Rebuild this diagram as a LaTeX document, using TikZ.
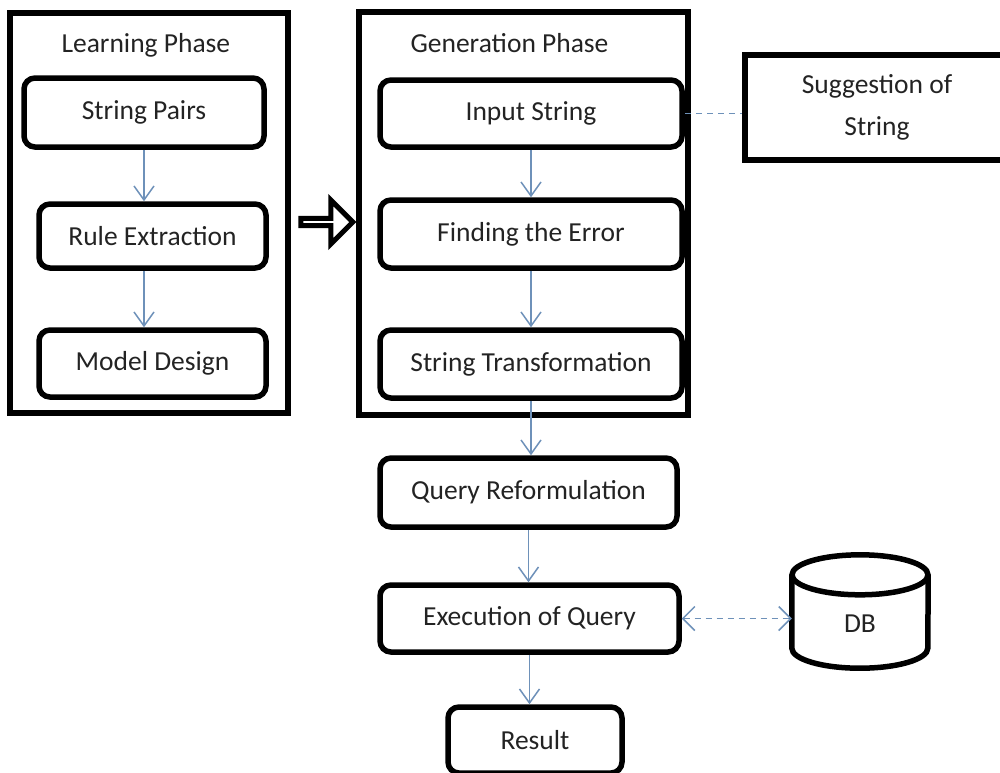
\documentclass[tikz,border=0pt]{standalone}
\usepackage{fontspec}
\setmainfont{Carlito}
\usetikzlibrary{arrows.meta}
\usetikzlibrary{shapes.arrows}
\definecolor{flowblue}{RGB}{110,145,185}
\definecolor{inkgray}{RGB}{35,35,35}

\begin{document}
\begin{tikzpicture}[x=1pt, y=-1pt, font=\fontsize{27.5}{33}\selectfont, text=inkgray]

		\tikzstyle{phase} = [draw=black, line width=5.5pt]
		\tikzstyle{stepbox} = [draw=black, line width=5.5pt, rounded corners=11pt, inner sep=0pt]
		\tikzstyle{dbline} = [draw=black, line width=5.5pt]
		\tikzstyle{edge} = [->, flowblue, line width=1.5pt, -{Straight Barb[length=14pt, width=20pt]}]
		\tikzstyle{edge_dashed} = [flowblue, line width=1.5pt, dash pattern=on 6pt off 5pt]
		\tikzstyle{edge_both} = [flowblue, line width=1.5pt, dash pattern=on 6pt off 5pt, {Straight Barb[length=12pt, width=24pt]}-{Straight Barb[length=12pt, width=24pt]}]

		\useasboundingbox (0,0) rectangle (1000,772);
		\clip (0,0) rectangle (1000,772);

		% learning phase
		\node[phase, minimum width=278pt, minimum height=400pt](learn) at (149,213){};
		\node[anchor=west](learn_title) at (58,45){Learning Phase};
		\node[stepbox, minimum width=240pt, minimum height=69pt](pairs) at (144,112.5){String Pairs};
		\node[stepbox, minimum width=227pt, minimum height=64pt](rule) at (152.5,236){Rule Extraction};
		\node[stepbox, minimum width=227pt, minimum height=67pt](model) at (152.5,363.5){Model Design};

		\node[single arrow, draw=black, line width=5pt, minimum height=52pt, minimum width=44pt, single arrow head extend=13pt, single arrow head indent=0pt, inner sep=0pt](go) at (325,222){};

		% generation phase
		\node[phase, minimum width=329pt, minimum height=403pt](gen) at (523.5,213.5){};
		\node[anchor=west](gen_title) at (407,43){Generation Phase};
		\node[stepbox, minimum width=302pt, minimum height=67pt](input) at (531,113.5){Input String};
		\node[stepbox, minimum width=302pt, minimum height=68pt](finding) at (531,234){Finding the Error};
		\node[stepbox, minimum width=302pt, minimum height=68pt](transform) at (531,364){String Transformation};

		\node[phase, minimum width=264pt, minimum height=105pt, align=center, font=\fontsize{27.5}{42}\selectfont](sugg) at (877,107.5){Suggestion of\\String};

		\node[stepbox, minimum width=297pt, minimum height=69pt](query) at (528.5,492.5){Query Reformulation};
		\node[stepbox, minimum width=299pt, minimum height=67pt](exec) at (529.5,618.5){Execution of Query};
		\node[stepbox, minimum width=174pt, minimum height=66pt](result) at (535,740){Result};

		% database drum
		\node[inner sep=0pt, minimum width=136pt, minimum height=113pt, label={[yshift=-12pt, text=inkgray]center:DB}](db) at (860,611.5){};
		\draw[dbline] ([yshift=-20pt]db.north) ellipse [x radius=68pt, y radius=20pt];
		\draw[dbline] ([yshift=-20pt]db.north west) -- ([yshift=20pt]db.south west) arc[start angle=180, end angle=360, x radius=68pt, y radius=20pt] -- ([yshift=-20pt]db.north east);

		\draw[edge] (pairs.south) -- (pairs.south |- rule.north);
		\draw[edge] (pairs.south |- rule.south) -- (pairs.south |- model.north);
		\draw[edge] (input) -- (finding);
		\draw[edge] (finding) -- (transform);
		\draw[edge] (transform.south) -- (transform.south |- query.north);
		\draw[edge] (query.south) -- (query.south |- exec.north);
		\draw[edge] (exec.south) -- (exec.south |- result.north);
		\draw[edge_dashed] (input.east) -- (input.east -| sugg.west);
		\draw[edge_both] (exec.east) -- (exec.east -| db.west);

\end{tikzpicture}
\end{document}
